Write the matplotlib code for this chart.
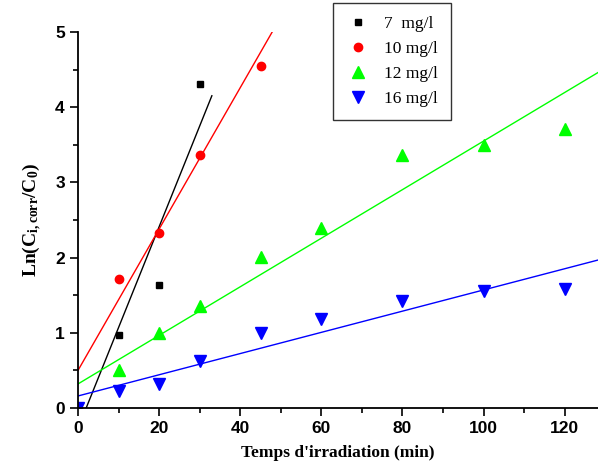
import matplotlib.pyplot as plt
from matplotlib.ticker import MultipleLocator

plt.rcParams["mathtext.fontset"] = "custom"
plt.rcParams["mathtext.rm"] = "Liberation Serif:bold"
plt.rcParams["mathtext.it"] = "Liberation Serif:bold"
plt.rcParams["mathtext.bf"] = "Liberation Serif:bold"

# measured points
t7 = [0, 10, 20, 30]
y7 = [0, 0.97, 1.64, 4.31]
t10 = [0, 10, 20, 30, 45]
y10 = [0, 1.71, 2.33, 3.37, 4.55]
t12 = [0, 10, 20, 30, 45, 60, 80, 100, 120]
y12 = [0, 0.50, 1.00, 1.35, 2.01, 2.40, 3.37, 3.50, 3.71]
t16 = [0, 10, 20, 30, 45, 60, 80, 100, 120]
y16 = [0, 0.22, 0.32, 0.62, 1.00, 1.18, 1.42, 1.55, 1.58]

labels = ["7  mg/l", "10 mg/l", "12 mg/l", "16 mg/l"]

# linear fits (slope, intercept, x end)
slopes = [0.134, 0.094, 0.0323, 0.0141]
intercepts = [-0.27, 0.50, 0.32, 0.16]
x_end = [33, 60, 130, 130]

fig = plt.figure(figsize=(5.98, 4.66), dpi=100)
ax = fig.add_axes([78 / 598, 58 / 466, 520 / 598, 376 / 466])

series = [
    (t7, y7, "black", "s", 4.5),
    (t10, y10, "red", "o", 6),
    (t12, y12, "#00ff00", "^", 8),
    (t16, y16, "blue", "v", 8),
]
handles = []
for (t, y, c, m, ms), lab, a, b, xe in zip(series, labels, slopes, intercepts, x_end):
    h, = ax.plot(t, y, linestyle="none", marker=m, color=c, markersize=ms,
                 label=lab)
    handles.append(h)
    ax.plot([0, xe], [b, b + a * xe], color=c, lw=1)

ax.set_xlim(0, 128.2)
ax.set_ylim(0, 5)
ax.xaxis.set_major_locator(MultipleLocator(20))
ax.xaxis.set_minor_locator(MultipleLocator(10))
ax.yaxis.set_major_locator(MultipleLocator(1))
ax.yaxis.set_minor_locator(MultipleLocator(0.5))
ax.tick_params(which="both", direction="out", width=1.2)
ax.tick_params(which="major", length=6, labelsize=12.5)
ax.tick_params(which="minor", length=3.5)
for lbl in ax.get_xticklabels() + ax.get_yticklabels():
    lbl.set_fontweight("bold")
    lbl.set_family("Liberation Sans")
ax.spines["top"].set_visible(False)
ax.spines["right"].set_visible(False)
ax.spines["left"].set_linewidth(1.3)
ax.spines["bottom"].set_linewidth(1.3)

ax.set_xlabel("Temps d'irradiation (min)", family="Liberation Serif",
              fontweight="bold", fontsize=12.5, labelpad=6)
ax.set_ylabel(r"Ln(C$_{\mathrm{i,corr}}$/C$_{\mathrm{0}}$)", family="Liberation Serif",
              fontweight="bold", fontsize=14, labelpad=8)

leg = fig.legend(handles=handles, loc="upper left",
                 bbox_to_anchor=(333 / 598, 1 - 3 / 466),
                 prop={"family": "Liberation Serif", "size": 12.5},
                 frameon=True, fancybox=False, edgecolor="black",
                 handletextpad=0.8, labelspacing=0.5, borderpad=0.75,
                 borderaxespad=0, handlelength=1.4)
leg.get_frame().set_linewidth(1.0)

fig.savefig("out.png", dpi=100)
